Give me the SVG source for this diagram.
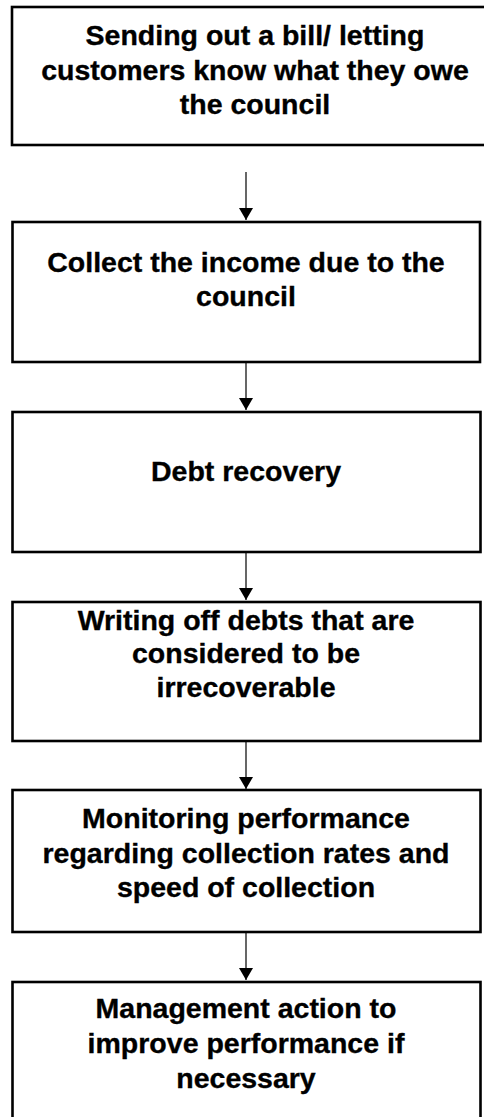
<svg xmlns="http://www.w3.org/2000/svg" width="484" height="1117" viewBox="0 0 484 1117">
<style>
.box{fill:#fff;stroke:#000;stroke-width:2.6}
.t{font-family:"Liberation Sans",Arial,sans-serif;font-weight:bold;font-size:28.5px;fill:#000;text-anchor:middle;stroke:#000;stroke-width:0.35}
.c{stroke:#000;stroke-width:1.2;fill:none}
</style>
<defs>
<marker id="ah" markerWidth="12" markerHeight="14" refX="12" refY="7" orient="auto" markerUnits="userSpaceOnUse" viewBox="0 0 12 14">
<path d="M0,0 L12,7 L0,14 Z" fill="#000"/>
</marker>
</defs>
<rect width="484" height="1117" fill="#fff"/>
<g id="connectors">
<line class="c" x1="246" y1="172" x2="246" y2="220" marker-end="url(#ah)"/>
<line class="c" x1="246" y1="363" x2="246" y2="410" marker-end="url(#ah)"/>
<line class="c" x1="246" y1="553" x2="246" y2="600" marker-end="url(#ah)"/>
<line class="c" x1="246" y1="742" x2="246" y2="789" marker-end="url(#ah)"/>
<line class="c" x1="246" y1="933" x2="246" y2="980" marker-end="url(#ah)"/>
</g>
<g id="n1">
<rect class="box" x="12" y="7" width="489" height="138"/>
<text class="t" x="255" y="45">Sending out a bill/ letting</text>
<text class="t" x="255" y="80">customers know what they owe</text>
<text class="t" x="255" y="114">the council</text>
</g>
<g id="n2">
<rect class="box" x="12.5" y="222" width="467.5" height="140"/>
<text class="t" x="246" y="272">Collect the income due to the</text>
<text class="t" x="246" y="306">council</text>
</g>
<g id="n3">
<rect class="box" x="12.5" y="412" width="468" height="140"/>
<text class="t" x="246" y="481">Debt recovery</text>
</g>
<g id="n4">
<rect class="box" x="12.5" y="602" width="468" height="139"/>
<text class="t" x="246" y="630">Writing off debts that are</text>
<text class="t" x="246" y="663">considered to be</text>
<text class="t" x="246" y="697">irrecoverable</text>
</g>
<g id="n5">
<rect class="box" x="12.5" y="790" width="468" height="142"/>
<text class="t" x="246" y="828">Monitoring performance</text>
<text class="t" x="246" y="863">regarding collection rates and</text>
<text class="t" x="246" y="897">speed of collection</text>
</g>
<g id="n6">
<rect class="box" x="12.5" y="982" width="468" height="150"/>
<text class="t" x="246" y="1018">Management action to</text>
<text class="t" x="246" y="1053">improve performance if</text>
<text class="t" x="246" y="1088">necessary</text>
</g>
</svg>
